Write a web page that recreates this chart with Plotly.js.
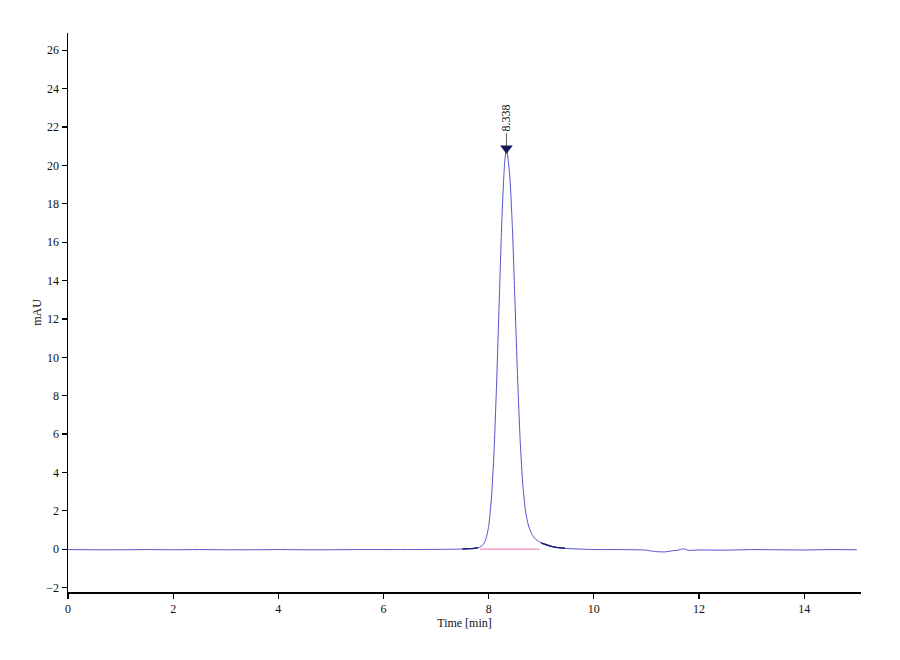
<!DOCTYPE html>
<html>
<head>
<meta charset="utf-8">
<script src="https://cdn.plot.ly/plotly-3.0.1.min.js"></script>
<style>
  body { margin: 0; background: #fff; }
  #chart { width: 900px; height: 660px; }
</style>
</head>
<body>
<div id="chart"></div>
<script>
// chromatogram trace (time in min, signal in mAU)
const timeMin = [
  0, 0.5, 1, 1.5, 2, 2.5, 3, 3.5, 4, 4.5, 5, 5.5, 6, 6.5, 7, 7.3,
  7.5, 7.6, 7.7, 7.8, 7.85, 7.9, 7.95, 8.0, 8.05, 8.1, 8.15, 8.2, 8.25, 8.3, 8.338,
  8.4, 8.45, 8.5, 8.55, 8.6, 8.65, 8.7, 8.75, 8.8, 8.85, 8.9, 8.95, 9.0, 9.1, 9.2, 9.3, 9.45,
  9.6, 9.8, 10, 10.4, 10.8, 11.0, 11.1, 11.2, 11.35, 11.5, 11.6, 11.7, 11.8,
  12, 12.5, 13, 13.5, 14, 14.5, 15
];
const mau = [
  -0.02, -0.03, -0.03, -0.02, -0.03, -0.02, -0.03, -0.03, -0.02, -0.03, -0.03, -0.02, -0.02, -0.02, -0.01, 0.0,
  0.01, 0.02, 0.04, 0.08, 0.14, 0.25, 0.55, 1.2, 2.6, 5.0, 8.6, 12.9, 17.1, 20.0, 20.9,
  19.5, 16.8, 12.9, 8.9, 5.6, 3.3, 2.0, 1.3, 0.9, 0.66, 0.5, 0.4, 0.32, 0.21, 0.14, 0.09, 0.05,
  0.02, 0.0, -0.02, -0.02, -0.03, -0.05, -0.1, -0.13, -0.14, -0.08, -0.05, 0.02, -0.06,
  -0.04, -0.05, -0.02, -0.03, -0.04, -0.02, -0.03
];

// peak apex and integration baseline
const peakTime = [8.338];
const peakMau = [20.9];
const peakLabels = ['8.338'];
const baseTime = [7.83, 8.97];
const baseMau = [0, 0];

// start / end segments of the integrated peak (drawn darker)
const startRange = [7.45, 7.83];
const endRange = [8.97, 9.45];

function pick(range) {
  const xs = [], ys = [];
  timeMin.forEach((t, i) => {
    if (t >= range[0] && t <= range[1]) { xs.push(t); ys.push(mau[i]); }
  });
  return { x: xs, y: ys };
}

const serif = '"Liberation Serif", "Times New Roman", serif';
const s1 = pick(startRange), s2 = pick(endRange);

const data = [
  { x: timeMin, y: mau, mode: 'lines', line: { color: '#5252cc', width: 1, shape: 'spline', smoothing: 0.6 } },
  { x: baseTime, y: baseMau, mode: 'lines', line: { color: '#f28cc0', width: 1.2 } },
  { x: s1.x, y: s1.y, mode: 'lines', line: { color: '#1c1c78', width: 1.6 } },
  { x: s2.x, y: s2.y, mode: 'lines', line: { color: '#1c1c78', width: 1.6 } },
  {
    x: peakTime, y: peakMau, mode: 'markers',
    marker: { symbol: 'triangle-down', size: 11, color: '#141460' }
  }
];

const axisCommon = {
  showgrid: false,
  zeroline: false,
  showline: true,
  linecolor: '#000',
  linewidth: 1.5,
  ticks: 'outside',
  ticklen: 5,
  tickwidth: 1.2,
  tickcolor: '#000',
  tickfont: { family: serif, size: 12, color: '#111' }
};

const layout = {
  width: 900,
  height: 660,
  paper_bgcolor: '#fff',
  plot_bgcolor: '#fff',
  showlegend: false,
  margin: { l: 68, r: 39, t: 33, b: 68 },
  xaxis: Object.assign({}, axisCommon, {
    range: [0, 15.08],
    tick0: 0,
    dtick: 2,
    title: { text: 'Time [min]', font: { family: serif, size: 12, color: '#111' }, standoff: 2 }
  }),
  yaxis: Object.assign({}, axisCommon, {
    range: [-2.23, 26.9],
    tick0: 0,
    dtick: 2,
    ticklabelstandoff: 0,
    title: { text: 'mAU', font: { family: serif, size: 12, color: '#111' }, standoff: 2 }
  }),
  annotations: peakTime.map((t, i) => ({
    x: t, y: peakMau[i], xref: 'x', yref: 'y',
    text: peakLabels[i],
    textangle: -90,
    font: { family: serif, size: 12, color: '#111' },
    showarrow: true, arrowhead: 0, arrowwidth: 0.8, arrowcolor: '#333',
    ax: 0, ay: -30
  }))
};

Plotly.newPlot('chart', data, layout, { displayModeBar: false, staticPlot: true });
</script>
</body>
</html>
